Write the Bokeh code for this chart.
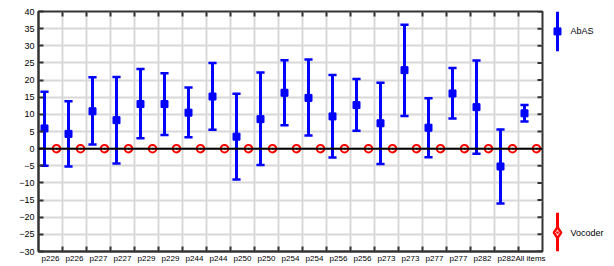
import math
from bokeh.plotting import figure
from bokeh.models import Range1d, FixedTicker, Span, ColumnDataSource
from bokeh.layouts import row
from bokeh.embed import file_html
from bokeh.resources import INLINE

labels = ["p226", "p226", "p227", "p227", "p229", "p229", "p244", "p244", "p250", "p250",
          "p254", "p254", "p256", "p256", "p273", "p273", "p277", "p277", "p282", "p282", "All items"]
abas_mean = [5.9, 4.3, 10.9, 8.3, 13.0, 13.0, 10.5, 15.2, 3.5, 8.6, 16.3, 14.8, 9.4, 12.7, 7.4,
             22.9, 6.1, 16.1, 12.1, -5.2, 10.3]
abas_upper = [16.6, 13.8, 20.8, 20.9, 23.2, 22.0, 17.8, 25.0, 16.0, 22.2, 25.8, 26.0, 21.5, 20.3, 19.2,
              36.1, 14.7, 23.5, 25.7, 5.6, 12.7]
abas_lower = [-5.0, -5.2, 1.2, -4.3, 3.0, 4.0, 3.3, 5.5, -9.0, -4.8, 6.8, 3.8, -2.6, 5.2, -4.5,
              9.5, -2.5, 8.8, -1.5, -16.0, 7.9]
vocoder_mean = [0.0] * 21
y_ticks = list(range(-30, 41, 5))

FONT = "Liberation Sans"
n = len(labels)
cx = [i + 0.5 for i in range(n)]
bx = [c - 0.25 for c in cx]
rx = [c + 0.25 for c in cx]
bounds = list(range(1, n))
Y0, Y1 = -30, 40

p = figure(width=546, height=265, x_range=Range1d(0, n), y_range=Range1d(Y0, Y1),
           output_backend="svg", toolbar_location=None,
           min_border_left=38, min_border_right=4, min_border_top=11, min_border_bottom=13)
p.background_fill_color = "white"
p.outline_line_color = "#333333"
p.outline_line_width = 2

p.xgrid.ticker = FixedTicker(ticks=bounds)
p.ygrid.ticker = FixedTicker(ticks=y_ticks)
p.grid.grid_line_color = "#d8d8d8"
p.grid.grid_line_width = 2

xa = p.xaxis[0]
xa.ticker = FixedTicker(ticks=cx, minor_ticks=bounds)
xa.major_label_overrides = {float(c): lab for c, lab in zip(cx, labels)}
xa.major_tick_in = 0
xa.major_tick_out = 0
xa.minor_tick_in = 5
xa.minor_tick_out = 0
xa.minor_tick_line_color = "#333333"
xa.minor_tick_line_width = 2
xa.major_label_standoff = 2
xa.major_label_text_font = FONT
xa.major_label_text_font_size = "8px"
xa.major_label_text_color = "black"
xa.axis_line_color = "#333333"
xa.axis_line_width = 2

ya = p.yaxis[0]
ya.ticker = FixedTicker(ticks=y_ticks)
ya.major_tick_in = 5
ya.major_tick_out = 0
ya.minor_tick_line_color = None
ya.major_tick_line_color = "#333333"
ya.major_tick_line_width = 2
ya.major_label_standoff = 4
ya.major_label_text_font = FONT
ya.major_label_text_font_size = "9px"
ya.major_label_text_color = "black"
ya.axis_line_color = "#333333"
ya.axis_line_width = 2

# inward mirror ticks on the top and right edges
p.scatter(bounds, [Y1] * len(bounds), marker="dash", angle=math.pi / 2, size=10,
          line_color="#333333", line_width=2)
p.scatter([n] * len(y_ticks), y_ticks, marker="dash", size=10,
          line_color="#333333", line_width=2)

p.add_layout(Span(location=0, dimension="width", line_color="black", line_width=2))

src = ColumnDataSource(dict(x=bx, m=abas_mean, lo=abas_lower, hi=abas_upper,
                            x0=[x - 0.17 for x in bx], x1=[x + 0.17 for x in bx]))
p.segment("x", "lo", "x", "hi", source=src, line_color="blue", line_width=3)
p.segment("x0", "hi", "x1", "hi", source=src, line_color="blue", line_width=2.5)
p.segment("x0", "lo", "x1", "lo", source=src, line_color="blue", line_width=2.5)
p.scatter("x", "m", source=src, marker="square", size=7, fill_color="blue", line_color="blue")

p.scatter(rx, vocoder_mean, marker="circle_dot", size=7.5, line_color="red",
          fill_color="white", line_width=2)

# legend panel (its frame is aligned with the main frame: page y 11..252)
lf = figure(width=66, height=265, x_range=Range1d(0, 66), y_range=Range1d(252, 11),
            output_backend="svg", toolbar_location=None, min_border=0,
            x_axis_location=None, y_axis_location=None)
lf.grid.visible = False
lf.outline_line_color = None
lf.segment([11], [11], [11], [51], line_color="blue", line_width=3)
lf.scatter([11], [31], marker="square", size=7, fill_color="blue", line_color="blue")
lf.text([24], [31], text=["AbAS"], text_font_size="9px", text_baseline="middle",
        text_color="black", text_font={"value": FONT})
lf.segment([11], [213], [11], [252], line_color="red", line_width=3)
lf.scatter([11], [233], marker="diamond_dot", size=11, line_color="red", fill_color="white",
           line_width=2.5)
lf.text([24], [233], text=["Vocoder"], text_font_size="9px", text_baseline="middle",
        text_color="black", text_font={"value": FONT})

layout = row(p, lf, spacing=0)
open("out.html", "w").write(file_html(layout, INLINE))
